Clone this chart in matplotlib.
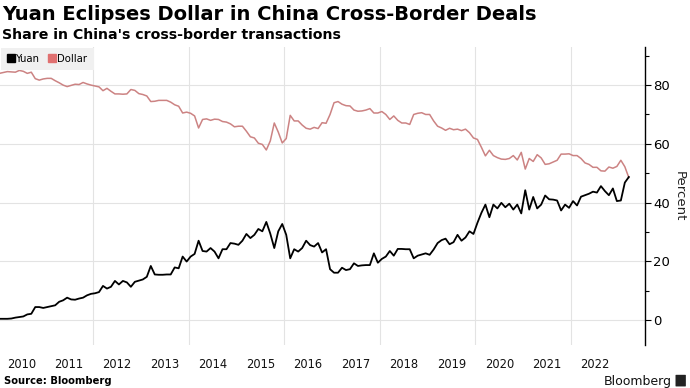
import numpy as np
import matplotlib
matplotlib.use("Agg")
import matplotlib.pyplot as plt
from matplotlib.lines import Line2D
from matplotlib.patches import FancyBboxPatch

# Monthly data, Jan 2010 .. Mar 2023 (share in %)
start_year = 2010
yuan = [0.4, 0.4, 0.4, 0.5, 0.8, 1.0, 1.2, 1.9, 2.1, 4.4, 4.4, 4.1,
        4.4, 4.7, 5.0, 6.2, 6.7, 7.6, 7.0, 6.9, 7.3, 7.6, 8.4, 8.9,
        9.1, 9.5, 11.6, 10.7, 11.3, 13.3, 12.1, 13.3, 12.8, 11.3, 13.0, 13.4,
        13.8, 14.7, 18.4, 15.5, 15.4, 15.4, 15.5, 15.5, 17.9, 17.6, 21.6, 19.9,
        21.6, 22.5, 27.0, 23.5, 23.3, 24.5, 23.3, 21.0, 24.1, 24.1, 26.2, 26.0,
        25.6, 27.0, 29.3, 27.9, 29.0, 31.0, 30.2, 33.4, 29.4, 24.5, 30.2, 32.7,
        29.0, 21.0, 24.1, 23.3, 24.5, 27.0, 25.5, 25.0, 26.2, 23.0, 24.1, 17.3,
        16.1, 16.1, 17.8, 17.0, 17.3, 19.3, 18.4, 18.6, 18.7, 18.7, 22.7, 19.5,
        20.8, 21.6, 23.5, 21.9, 24.2, 24.2, 24.1, 24.1, 21.0, 21.9, 22.3, 22.7,
        22.2, 24.0, 26.2, 27.2, 27.7, 25.8, 26.5, 29.0, 27.0, 28.1, 30.2, 29.3,
        33.1, 36.5, 39.3, 35.0, 39.3, 38.0, 39.9, 38.4, 39.6, 37.6, 39.3, 36.3,
        44.2, 37.6, 41.9, 38.0, 39.3, 42.4, 41.1, 41.0, 40.7, 37.3, 39.3, 38.2,
        40.5, 39.0, 42.0, 42.5, 43.0, 43.7, 43.4, 45.6, 43.9, 42.5, 44.8, 40.5,
        40.7, 46.8, 48.7]
dollar = [84.0, 84.3, 84.6, 84.5, 84.4, 85.0, 84.7, 84.0, 84.4, 82.2, 81.7, 82.1,
          82.3, 82.3, 81.5, 80.8, 80.0, 79.5, 79.9, 80.3, 80.2, 80.9, 80.4, 80.0,
          79.7, 79.4, 78.1, 78.9, 77.9, 77.0, 77.0, 76.9, 77.0, 78.5, 78.2, 77.1,
          76.8, 76.3, 74.4, 74.5, 74.8, 74.8, 74.8, 74.2, 73.3, 72.8, 70.5, 70.8,
          70.4, 69.5, 65.4, 68.3, 68.5, 68.0, 68.4, 68.3, 67.6, 67.4, 66.8, 65.8,
          66.0, 66.0, 64.3, 62.4, 62.0, 60.2, 59.8, 57.9, 61.0, 67.1, 64.0, 60.3,
          61.8, 69.7, 67.8, 67.8, 66.4, 65.3, 65.0, 65.6, 65.2, 67.2, 67.0, 70.0,
          74.0, 74.4, 73.5, 73.0, 72.9, 71.5, 71.1, 71.2, 71.5, 72.0, 70.5, 70.5,
          71.0, 70.0, 68.3, 69.5, 68.0, 67.1, 67.1, 66.6, 70.0, 70.4, 70.6, 70.0,
          70.0, 67.8, 66.0, 65.4, 64.6, 65.3, 64.8, 65.0, 64.5, 65.0, 63.8, 62.0,
          61.5, 58.8, 55.9, 57.8, 56.0, 55.3, 54.8, 54.7, 55.0, 56.0, 54.5, 57.1,
          51.4, 55.0, 54.0, 56.3, 55.2, 53.0, 53.2, 53.8, 54.4, 56.5, 56.5, 56.6,
          56.0, 56.0, 55.0, 53.5, 53.0, 52.0, 52.0, 50.8, 50.7, 52.1, 51.7, 52.3,
          54.4, 52.2, 48.5]
years = list(range(2010, 2023))
y_ticks = [0, 20, 40, 60, 80]

n = len(yuan)
t = start_year + (np.arange(n) + 0.5) / 12.0

plt.rcParams['font.family'] = ['DejaVu Sans']
fig = plt.figure(figsize=(6.9, 3.88), dpi=100)
ax = fig.add_axes([0.0, 0.111, 0.935, 0.768])

yuan_col = '#000000'
dollar_col = '#cc8383'
dollar_leg = '#e07070'

ax.plot(t, dollar, color=dollar_col, lw=1.1, zorder=3)
ax.plot(t, yuan, color=yuan_col, lw=1.3, zorder=4)

ax.set_xlim(2010.054, 2023.55)
ax.set_ylim(-8.5, 93)

# grid
for yv in y_ticks:
    ax.axhline(yv, color='#e3e3e3', lw=0.8, zorder=1)
for xv in range(2012, 2024, 2):
    ax.axvline(xv, color='#e3e3e3', lw=0.8, zorder=1)

# spines
for s in ['top', 'left', 'bottom']:
    ax.spines[s].set_visible(False)
ax.spines['right'].set_color('black')
ax.spines['right'].set_linewidth(1.0)

ax.yaxis.tick_right()
ax.set_yticks(y_ticks)
ax.set_yticks([10, 30, 50, 70, 90], minor=True)
ax.tick_params(axis='y', which='major', length=4, width=0.8, pad=2,
               labelsize=9.5, colors='black')
ax.tick_params(axis='y', which='minor', length=3, width=0.8)
ax.yaxis.set_label_position('right')
ax.set_ylabel('Percent', rotation=270, fontsize=9.5, labelpad=11, color='#222222')

ax.set_xticks([y + 0.5 for y in years])
ax.set_xticklabels([str(y) for y in years])
ax.tick_params(axis='x', length=0, labelsize=8.3, pad=9.5, colors='#111111')

# legend
handles = [Line2D([], [], marker='s', ls='none', color=yuan_col, markersize=5.5),
           Line2D([], [], marker='s', ls='none', color=dollar_leg, markersize=5.5)]
leg = ax.legend(handles, ['Yuan', 'Dollar'], loc='upper left', bbox_to_anchor=(0.0, 1.0),
                ncol=2, frameon=True, fontsize=7.3, handletextpad=0.1,
                columnspacing=0.8, borderpad=0.6, handlelength=0.8,
                borderaxespad=0.1, fancybox=False)
leg.get_frame().set_facecolor('#f0f0f0')
leg.get_frame().set_edgecolor('none')
leg.get_frame().set_alpha(1)

# titles
fig.text(0.003, 0.962, 'Yuan Eclipses Dollar in China Cross-Border Deals',
         fontsize=14, fontweight='bold', ha='left', va='center')
fig.text(0.003, 0.910, "Share in China's cross-border transactions",
         fontsize=10.2, fontweight='bold', ha='left', va='center')

# footer
fig.text(0.006, 0.018, 'Source: Bloomberg', fontsize=7.2, fontweight='bold',
         ha='left', va='center')
fig.text(0.974, 0.018, 'Bloomberg', fontsize=9, ha='right', va='center',
         color='#111111')
fig.patches.append(FancyBboxPatch((0.980, 0.005), 0.013, 0.028,
                                  boxstyle='round,pad=0.001', transform=fig.transFigure,
                                  facecolor='#222222', edgecolor='none'))

fig.savefig('out.png', dpi=100)
